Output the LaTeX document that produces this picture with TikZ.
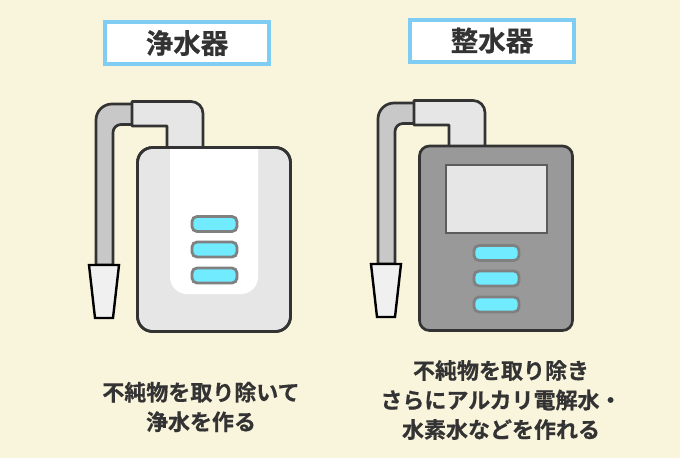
\documentclass[tikz,border=0pt]{standalone}
\usepackage{fontspec}
\setmainfont[BoldFont={Noto Sans CJK JP Bold},BoldFeatures={FakeBold=0.6}]{Noto Sans CJK JP}
\definecolor{bgcream}{HTML}{F9F4DC}
\definecolor{inkdark}{HTML}{333333}
\definecolor{titleblue}{HTML}{7FCDF2}
\definecolor{lampblue}{HTML}{70EBFF}
\definecolor{pipedark}{HTML}{C8C8C8}
\definecolor{pipelight}{HTML}{E6E6E6}
\definecolor{bodygray}{HTML}{999999}
\tikzset{
	outline/.style={draw=inkdark,line width=2.7pt,line join=round},
	titlebox/.style={draw=titleblue,line width=4pt,fill=white,minimum width=164pt,minimum height=42pt,inner sep=0pt,text=inkdark,font=\bfseries\fontsize{27.5}{27.5}\selectfont},
	caption/.style={align=center,text=inkdark,font=\bfseries\fontsize{22}{29.5}\selectfont,inner sep=0pt},
	lamp/.style={draw=gray,line width=2.8pt,fill=lampblue,rounded corners=5pt,minimum width=45pt,minimum height=15pt,inner sep=0pt},
	hose/.pic={
		\draw[outline,fill=pipedark] (132,104) [rounded corners=16pt] -- (96,104) [sharp corners] -- (96,265) -- (113,265) [rounded corners=8pt] -- (113,124.5) [sharp corners] -- (132,124.5);
		\draw[outline,fill=pipelight] (132,101.5) [rounded corners=12pt] -- (203,101.5) [sharp corners] -- (203,148) -- (167,148) -- (167,126) -- (132,126) -- cycle;
		\draw[draw=black,line width=2.4pt,fill=white!94!black] (89,265) -- (119,265) -- (113,318) -- (95,318) -- cycle;
	}
}
\begin{document}
\begin{tikzpicture}[x=1pt,y=-1pt]
	\useasboundingbox[fill=bgcream] (0,0) rectangle (680,458);
	% titles
	\node[titlebox] (lefttitle) at (187,43) {浄水器};
	\node[titlebox] (righttitle) at (492,40.5) {整水器};
	% left unit
	\pic at (0,0) {hose};
	\draw[outline,fill=pipelight,rounded corners=15pt] (137.5,147.5) rectangle (290.5,331.5);
	\fill[white,rounded corners=17pt] (170,148.6) [sharp corners] -- (258,148.6) [rounded corners=17pt] -- (258,294) -- (170,294) [sharp corners] -- cycle;
	\draw[outline,rounded corners=15pt] (137.5,147.5) rectangle (290.5,331.5);
	\node[lamp] (lefttop) at (214.5,224) {};
	\node[lamp] (leftmid) at (214.5,249.5) {};
	\node[lamp] (leftlow) at (214.5,275.5) {};
	% right unit
	\pic at (282,-1) {hose};
	\draw[outline,fill=bodygray,rounded corners=10pt] (419.5,146) rectangle (572.5,330.5);
	\node[draw=inkdark!80,line width=2.8pt,fill=pipelight,minimum width=101pt,minimum height=68pt,inner sep=0pt] (screen) at (496.5,199) {};
	\node[lamp] (righttop) at (496.5,253) {};
	\node[lamp] (rightmid) at (496.5,278.5) {};
	\node[lamp] (rightlow) at (496.5,304.5) {};
	% captions
	\node[caption] (leftcaption) at (201,407) {不純物を取り除いて\\浄水を作る};
	\node[caption] (rightcaption) at (501,400) {不純物を取り除き\\さらにアルカリ電解水・\\水素水などを作れる};
\end{tikzpicture}
\end{document}
